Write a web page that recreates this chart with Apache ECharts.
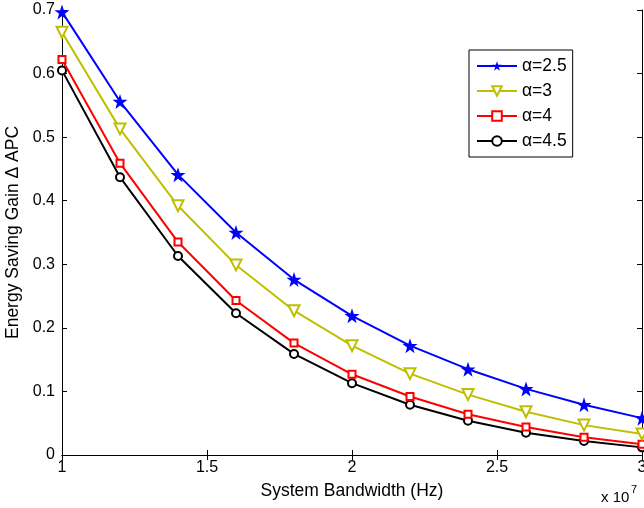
<!DOCTYPE html>
<html><head><meta charset="utf-8">
<script src="https://cdn.jsdelivr.net/npm/echarts@6/dist/echarts.min.js"></script>
<style>html,body{margin:0;padding:0;background:#fff}#c{width:644px;height:508px}</style>
</head><body><div id="c"></div>
<script>
var bandwidth = [1.0, 1.2, 1.4, 1.6, 1.8, 2.0, 2.2, 2.4, 2.6, 2.8, 3.0];
var seriesNames = ['α=2.5', 'α=3', 'α=4', 'α=4.5'];
var gainA25 = [0.697, 0.556, 0.441, 0.350, 0.276, 0.219, 0.172, 0.135, 0.104, 0.079, 0.058];
var gainA3  = [0.665, 0.513, 0.392, 0.299, 0.227, 0.172, 0.128, 0.095, 0.068, 0.047, 0.033];
var gainA4  = [0.622, 0.459, 0.335, 0.243, 0.176, 0.127, 0.092, 0.064, 0.044, 0.028, 0.017];
var gainA45 = [0.605, 0.437, 0.313, 0.223, 0.159, 0.113, 0.079, 0.054, 0.035, 0.022, 0.012];
var xTicks = [1, 1.5, 2, 2.5, 3];
var yTicks = [0, 0.1, 0.2, 0.3, 0.4, 0.5, 0.6, 0.7];

var FONT = 'Liberation Sans, Arial, Helvetica, sans-serif';
var star = 'path://M50,0 L61.8,35.1 L98.1,35.1 L68.8,56.7 L79.4,91.9 L50,70.6 L20.6,91.9 L31.2,56.7 L1.9,35.1 L38.2,35.1 Z';

function pairs(ys){ return bandwidth.map(function(x,i){return [x, ys[i]];}); }

var styles = [
  {color:'#0000ff', symbol: star, size: 15, fill:'#0000ff', rot:0},
  {color:'#bfbf00', symbol: 'triangle', size: 11, fill:'#ffffff', rot:180},
  {color:'#ff0000', symbol: 'rect', size: 7, fill:'#ffffff', rot:0},
  {color:'#000000', symbol: 'circle', size: 8, fill:'#ffffff', rot:0}
];
var allData = [gainA25, gainA3, gainA4, gainA45];

var series = allData.map(function(d, i){
  var s = styles[i];
  return {
    name: seriesNames[i], type:'line', data: pairs(d),
    symbol: s.symbol, symbolSize: s.size, symbolRotate: s.rot, showAllSymbol: true,
    lineStyle:{color:s.color, width:2},
    itemStyle:{color:s.fill, borderColor:s.color, borderWidth: i===0?0:2},
    emphasis:{disabled:true}, animation:false, z: 10 - i
  };
});

var chart = echarts.init(document.getElementById('c'), null, {renderer:'canvas'});
chart.setOption({
  animation:false,
  backgroundColor:'#ffffff',
  grid:{left:62, right:2, top:10, bottom:53, containLabel:false, outerBoundsMode:'none'},
  xAxis:[{
    type:'value', min:1, max:3, interval:0.5, position:'bottom',
    axisLine:{show:true, lineStyle:{color:'#000', width:1}},
    axisTick:{show:true, inside:true, length:5, lineStyle:{color:'#000'}},
    axisLabel:{color:'#000', fontFamily:FONT, fontSize:16, margin:5,
      formatter:function(v){ return xTicks.indexOf(v) >= 0 ? String(v) : ''; }},
    splitLine:{show:false},
    name:'System Bandwidth (Hz)', nameLocation:'middle', nameGap:27,
    nameTextStyle:{color:'#000', fontFamily:FONT, fontSize:17.5}
  },{
    type:'value', min:1, max:3, interval:0.5, position:'top',
    axisLine:{show:true, lineStyle:{color:'#000', width:1}},
    axisTick:{show:true, inside:true, length:5, lineStyle:{color:'#000'}},
    axisLabel:{show:false}, splitLine:{show:false}
  }],
  yAxis:[{
    type:'value', min:0, max:0.7, interval:0.1, position:'left',
    axisLine:{show:true, lineStyle:{color:'#000', width:1}},
    axisTick:{show:true, inside:true, length:5, lineStyle:{color:'#000'}},
    axisLabel:{color:'#000', fontFamily:FONT, fontSize:16, margin:7,
      formatter:function(v){ var r = Math.round(v*10)/10; return r === 0 ? '0' : r.toFixed(1); }},
    splitLine:{show:false},
    name:'Energy Saving Gain \u0394 APC', nameLocation:'middle', nameGap:38,
    nameTextStyle:{color:'#000', fontFamily:FONT, fontSize:17.5}
  },{
    type:'value', min:0, max:0.7, interval:0.1, position:'right',
    axisLine:{show:true, lineStyle:{color:'#000', width:1}},
    axisTick:{show:true, inside:true, length:5, lineStyle:{color:'#000'}},
    axisLabel:{show:false}, splitLine:{show:false}
  }],
  legend:{
    show:true, orient:'vertical', left:469, top:50, width:105,
    data: seriesNames,
    backgroundColor:'#ffffff', borderColor:'#000', borderWidth:1,
    padding:[7,6,7,7], itemGap:7, itemWidth:40, itemHeight:12,
    textStyle:{color:'#000', fontFamily:FONT, fontSize:17.5},
    selectedMode:false
  },
  graphic:[
    {type:'text', left:601, top:490, style:{text:'x 10', fill:'#000', font:'15px ' + FONT}},
    {type:'text', left:631, top:484, style:{text:'7', fill:'#000', font:'11px ' + FONT}}
  ],
  series: series
});
</script></body></html>
